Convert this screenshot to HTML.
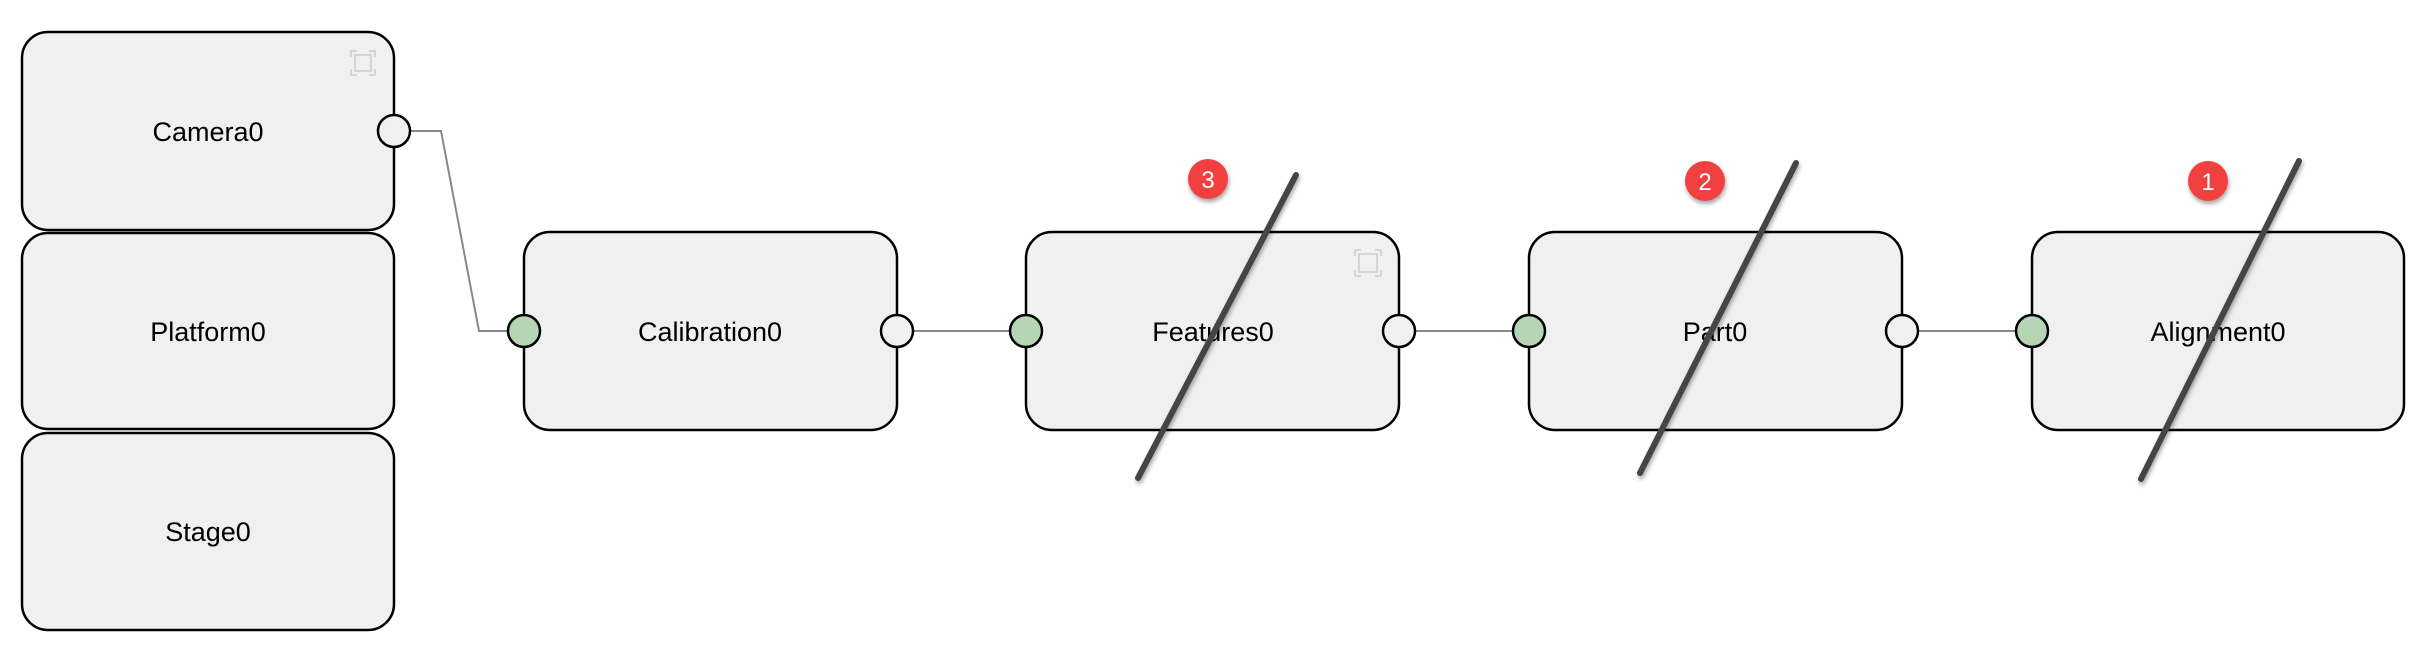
<!DOCTYPE html>
<html><head><meta charset="utf-8"><style>
html,body{margin:0;padding:0;background:#fff;}
svg{display:block}
text{font-family:"Liberation Sans",sans-serif;font-size:27px;fill:#000}
</style></head><body>
<svg width="2422" height="662" viewBox="0 0 2422 662" xmlns="http://www.w3.org/2000/svg">
<defs>
<filter id="sh" x="-50%" y="-50%" width="200%" height="200%"><feDropShadow dx="1" dy="3" stdDeviation="2" flood-color="#000" flood-opacity="0.35"/></filter>
</defs>
<g stroke="#888" stroke-width="2" fill="none">
<polyline points="410,131 441,131 479,331 508,331"/>
<line x1="913" y1="331" x2="1010" y2="331"/>
<line x1="1415" y1="331" x2="1512" y2="331"/>
<line x1="1918" y1="331" x2="2016" y2="331"/>
</g>
<g fill="#f0f0f0" stroke="#000" stroke-width="2.5">
<rect x="22" y="32" width="372" height="198" rx="26"/>
<rect x="22" y="233" width="372" height="196" rx="26"/>
<rect x="22" y="433" width="372" height="197" rx="26"/>
<rect x="524" y="232" width="373" height="198" rx="26"/>
<rect x="1026" y="232" width="373" height="198" rx="26"/>
<rect x="1529" y="232" width="373" height="198" rx="26"/>
<rect x="2032" y="232" width="372" height="198" rx="26"/>
</g>
<g fill="none" stroke="#ccc" stroke-width="1.5">
<path d="M351,57 v-6 h6 M369,51 h6 v6 M375,69 v6 h-6 M357,75 h-6 v-6"/>
<rect x="355" y="55" width="16" height="16"/>
<path d="M1355,256 v-6 h6 M1375,250 h6 v6 M1381,270 v6 h-6 M1361,276 h-6 v-6"/>
<rect x="1359" y="254" width="18" height="18"/>
</g>
<g stroke="#000" stroke-width="2.5">
<circle cx="394" cy="131" r="16" fill="#f0f0f0"/>
<circle cx="524" cy="331" r="16" fill="#b5d5b5"/>
<circle cx="897" cy="331" r="16" fill="#f0f0f0"/>
<circle cx="1026" cy="331" r="16" fill="#b5d5b5"/>
<circle cx="1399" cy="331" r="16" fill="#f0f0f0"/>
<circle cx="1529" cy="331" r="16" fill="#b5d5b5"/>
<circle cx="1902" cy="331" r="16" fill="#f0f0f0"/>
<circle cx="2032" cy="331" r="16" fill="#b5d5b5"/>
</g>
<g text-anchor="middle">
<text x="208" y="141">Camera0</text>
<text x="208" y="341">Platform0</text>
<text x="208" y="541">Stage0</text>
<text x="710" y="341">Calibration0</text>
<text x="1213" y="341">Features0</text>
<text x="1715" y="341">Part0</text>
<text x="2218" y="341">Alignment0</text>
</g>
<g stroke="#444" stroke-width="6" stroke-linecap="round" filter="url(#sh)">
<line x1="1296" y1="175" x2="1138" y2="478"/>
<line x1="1796" y1="163" x2="1640" y2="473"/>
<line x1="2299" y1="161" x2="2141" y2="479"/>
</g>
<g filter="url(#sh)" fill="#f04040">
<circle cx="1208" cy="179" r="20"/>
<circle cx="1705" cy="181" r="20"/>
<circle cx="2208" cy="181" r="20"/>
</g>
<g text-anchor="middle" style="font-size:24px">
<text x="1208" y="188" style="fill:#fff;font-size:24px">3</text>
<text x="1705" y="190" style="fill:#fff;font-size:24px">2</text>
<text x="2208" y="190" style="fill:#fff;font-size:24px">1</text>
</g>
</svg>
</body></html>
